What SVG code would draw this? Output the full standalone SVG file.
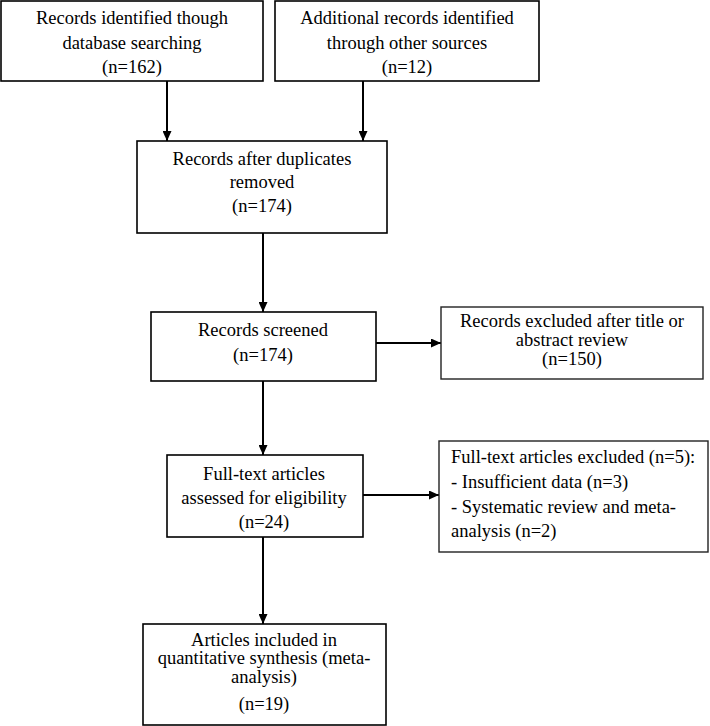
<svg xmlns="http://www.w3.org/2000/svg" width="710" height="726" viewBox="0 0 710 726">
<style>
  .box { fill: #ffffff; stroke: #000000; stroke-width: 1.6; }
  .box2 { fill: #ffffff; stroke: #222222; stroke-width: 1.4; }
  .t { font-family: "Liberation Serif", "Times New Roman", serif; font-size: 18.5px; fill: #000000; }
  .c { text-anchor: middle; }
  .conn { stroke: #000000; stroke-width: 2; fill: none; marker-end: url(#arr); }
</style>
<defs>
  <marker id="arr" markerUnits="userSpaceOnUse" markerWidth="10" markerHeight="9" refX="10" refY="4.5" orient="auto">
    <path d="M0,0 L10,4.5 L0,9 Z" fill="#000000"/>
  </marker>
</defs>
<rect width="710" height="726" fill="#ffffff"/>

<g id="connectors">
  <line class="conn" x1="167" y1="81" x2="167" y2="141"/>
  <line class="conn" x1="363" y1="81" x2="363" y2="141"/>
  <line class="conn" x1="263" y1="233" x2="263" y2="312"/>
  <line class="conn" x1="376" y1="343" x2="441" y2="343"/>
  <line class="conn" x1="263" y1="381" x2="263" y2="455"/>
  <line class="conn" x1="363" y1="495" x2="439" y2="495"/>
  <line class="conn" x1="263" y1="537" x2="263" y2="624"/>
</g>

<g id="n1">
  <rect class="box" x="1" y="1" width="262" height="80"/>
  <text class="t c" x="132" y="24">Records identified though</text>
  <text class="t c" x="132" y="49">database searching</text>
  <text class="t c" x="132" y="73">(n=162)</text>
</g>

<g id="n2">
  <rect class="box" x="275" y="1" width="264" height="80"/>
  <text class="t c" x="407" y="24">Additional records identified</text>
  <text class="t c" x="407" y="49">through other sources</text>
  <text class="t c" x="407" y="73">(n=12)</text>
</g>

<g id="n3">
  <rect class="box" x="137" y="141" width="250" height="92"/>
  <text class="t c" x="262" y="165">Records after duplicates</text>
  <text class="t c" x="262" y="188">removed</text>
  <text class="t c" x="262" y="212">(n=174)</text>
</g>

<g id="n4">
  <rect class="box" x="151" y="312" width="225" height="69"/>
  <text class="t c" x="263" y="336">Records screened</text>
  <text class="t c" x="263" y="361">(n=174)</text>
</g>

<g id="n5">
  <rect class="box2" x="441" y="307" width="262" height="72"/>
  <text class="t c" x="572" y="327">Records excluded after title or</text>
  <text class="t c" x="572" y="346">abstract review</text>
  <text class="t c" x="572" y="365">(n=150)</text>
</g>

<g id="n6">
  <rect class="box" x="167" y="455" width="196" height="82"/>
  <text class="t c" x="264" y="480">Full-text articles</text>
  <text class="t c" x="264" y="504">assessed for eligibility</text>
  <text class="t c" x="264" y="528">(n=24)</text>
</g>

<g id="n7">
  <rect class="box2" x="439" y="441" width="269" height="111"/>
  <text class="t" x="451" y="463">Full-text articles excluded (n=5):</text>
  <text class="t" x="451" y="488">- Insufficient data (n=3)</text>
  <text class="t" x="451" y="513">- Systematic review and meta-</text>
  <text class="t" x="451" y="537">analysis (n=2)</text>
</g>

<g id="n8">
  <rect class="box" x="143" y="624" width="243" height="101"/>
  <text class="t c" x="264" y="646">Articles included in</text>
  <text class="t c" x="264" y="664">quantitative synthesis (meta-</text>
  <text class="t c" x="264" y="683">analysis)</text>
  <text class="t c" x="264" y="710">(n=19)</text>
</g>
</svg>
